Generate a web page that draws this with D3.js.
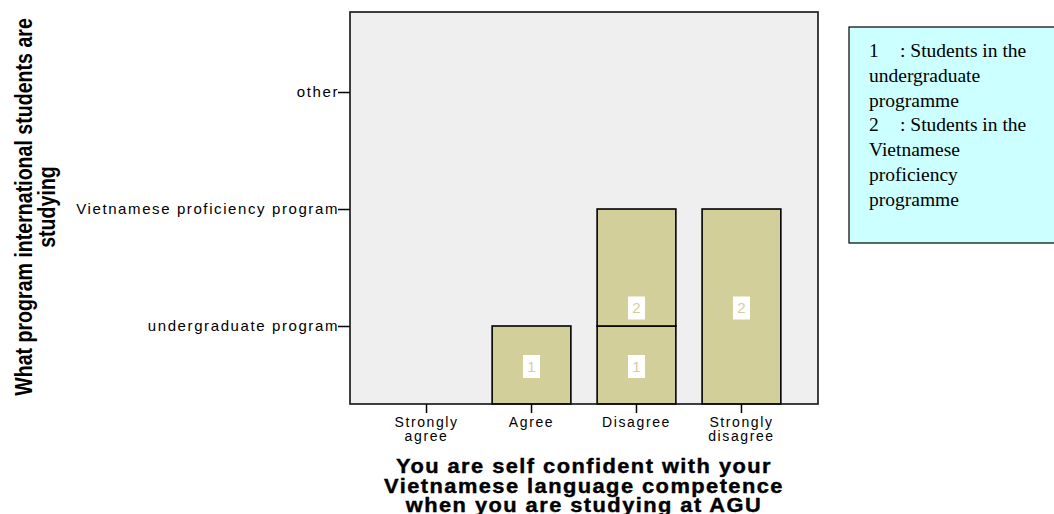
<!DOCTYPE html>
<html>
<head>
<meta charset="utf-8">
<script src="https://cdn.jsdelivr.net/npm/d3@7"></script>
<style>
  html, body { margin: 0; padding: 0; background: #ffffff; }
  svg { display: block; }
</style>
</head>
<body>
<svg id="chart" width="1054" height="514"></svg>
<script>
// ---- data ----
const categories = ["Strongly agree", "Agree", "Disagree", "Strongly disagree"];
const categoryLines = [["Strongly", "agree"], ["Agree"], ["Disagree"], ["Strongly", "disagree"]];
const programLevels = [1, 2, 3];
const programLabels = ["undergraduate program", "Vietnamese proficiency program", "other"];
// stacked segments: category, lower level (null = axis base), upper level, label
const segCategory = ["Agree", "Disagree", "Disagree", "Strongly disagree"];
const segLower = [null, null, 1, null];
const segUpper = [1, 1, 2, 2];
const segLabel = ["1", "1", "2", "2"];
const xTitleLines = ["You are self confident with your", "Vietnamese language competence", "when you are studying at AGU"];
const yTitleLines = ["What program international students are", "studying"];
const legendKeys = ["1", "", "", "2", "", "", ""];
const legendLines = [": Students in the", "undergraduate", "programme",
                     ": Students in the", "Vietnamese", "proficiency", "programme"];

// ---- layout ----
const plot = { left: 350, right: 818, top: 12, bottom: 404 };
const yDomain = [0.3333, 3.684];
const barFill = "#d3cf9a";
const svg = d3.select("#chart");

const x = d3.scaleBand().domain(categories).range([plot.left, plot.right])
  .paddingInner(0.25).paddingOuter(0.354);
const y = d3.scaleLinear().domain(yDomain).range([plot.bottom, plot.top]);

// plot background
svg.append("rect")
  .attr("x", plot.left).attr("y", plot.top)
  .attr("width", plot.right - plot.left).attr("height", plot.bottom - plot.top)
  .attr("fill", "#efefef");

// bars
const segs = segCategory.map((c, i) => ({
  cat: c, lo: segLower[i] == null ? yDomain[0] : segLower[i], hi: segUpper[i], label: segLabel[i]
}));
svg.append("g").selectAll("rect").data(segs).join("rect")
  .attr("x", d => x(d.cat))
  .attr("y", d => y(d.hi))
  .attr("width", x.bandwidth())
  .attr("height", d => y(d.lo) - y(d.hi))
  .attr("fill", barFill)
  .attr("stroke", "#000")
  .attr("stroke-width", 1.6);

// labels inside bars (placed at the middle between axis base and segment top)
const lab = svg.append("g").selectAll("g").data(segs).join("g")
  .attr("transform", d => `translate(${x(d.cat) + x.bandwidth() / 2},${y((yDomain[0] + d.hi) / 2) + 1.5})`);
lab.append("rect").attr("x", -8.5).attr("y", -11.5).attr("width", 17).attr("height", 23).attr("fill", "#fff");
lab.append("text").text(d => d.label)
  .attr("text-anchor", "middle").attr("dy", "0.36em")
  .attr("font-family", "Liberation Sans, Arial, sans-serif").attr("font-size", 15)
  .attr("fill", barFill);

// frame
svg.append("rect")
  .attr("x", plot.left).attr("y", plot.top)
  .attr("width", plot.right - plot.left).attr("height", plot.bottom - plot.top)
  .attr("fill", "none").attr("stroke", "#111").attr("stroke-width", 1.6);

// y axis
const yAxis = d3.axisLeft(y).tickValues(programLevels)
  .tickFormat((d, i) => programLabels[i]).tickSize(12).tickPadding(-1);
const gy = svg.append("g").attr("transform", `translate(${plot.left},0)`).call(yAxis);
gy.select(".domain").remove();
gy.selectAll(".tick line").attr("stroke", "#000").attr("stroke-width", 1.5);
gy.selectAll(".tick text")
  .attr("font-family", "Liberation Sans, Arial, sans-serif").attr("font-size", 15)
  .attr("letter-spacing", "1.6px").attr("fill", "#000");

// x axis
const xAxis = d3.axisBottom(x).tickSize(9).tickFormat("");
const gx = svg.append("g").attr("transform", `translate(0,${plot.bottom})`).call(xAxis);
gx.select(".domain").remove();
gx.selectAll(".tick line").attr("stroke", "#000").attr("stroke-width", 1.5);
gx.selectAll(".tick").each(function(d, i) {
  const t = d3.select(this).append("text")
    .attr("text-anchor", "middle").attr("fill", "#000")
    .attr("font-family", "Liberation Sans, Arial, sans-serif").attr("font-size", 14)
    .attr("letter-spacing", "1.6px");
  categoryLines[i].forEach((ln, j) => {
    t.append("tspan").attr("x", 0).attr("y", 23 + j * 14).text(ln);
  });
});

// x title
xTitleLines.forEach((ln, j) => {
  svg.append("text")
    .attr("transform", `translate(${(plot.left + plot.right) / 2},${473 + j * 19.5}) scale(1.12,1)`)
    .attr("text-anchor", "middle")
    .attr("font-family", "Liberation Sans, Arial, sans-serif").attr("font-weight", "bold")
    .attr("font-size", 19.5).attr("letter-spacing", "1.3px").attr("fill", "#000")
    .attr("stroke", "#000").attr("stroke-width", 0.4)
    .text(ln);
});

// y title
yTitleLines.forEach((ln, j) => {
  svg.append("text")
    .attr("transform", `translate(${32 + j * 23},207) rotate(-90) scale(0.8,1)`)
    .attr("text-anchor", "middle")
    .attr("font-family", "Liberation Sans, Arial, sans-serif").attr("font-weight", "bold")
    .attr("font-size", 24.5).attr("fill", "#000")
    .text(ln);
});

// legend box
svg.append("rect").attr("x", 849).attr("y", 27).attr("width", 215).attr("height", 216)
  .attr("fill", "#ccffff").attr("stroke", "#000").attr("stroke-width", 1.2);
const lg = svg.append("g")
  .attr("font-family", "Liberation Serif, Times New Roman, serif").attr("font-size", 19.5).attr("fill", "#000");
legendLines.forEach((ln, j) => {
  const yy = 57 + j * 24.8;
  if (legendKeys[j]) {
    lg.append("text").attr("x", 869).attr("y", yy).text(legendKeys[j]);
    lg.append("text").attr("x", 900).attr("y", yy).text(ln);
  } else {
    lg.append("text").attr("x", 869).attr("y", yy).text(ln);
  }
});
</script>
</body>
</html>
